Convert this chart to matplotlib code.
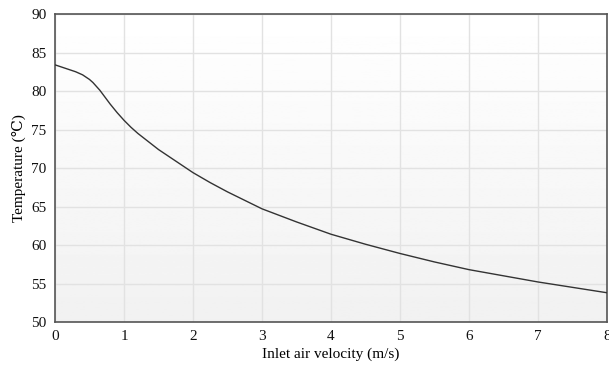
import numpy as np
import matplotlib
matplotlib.use("Agg")
import matplotlib.pyplot as plt

velocity = [0, 0.1, 0.2, 0.3, 0.4, 0.5, 0.55, 0.6, 0.65, 0.7, 0.75, 0.8, 0.9, 1.0, 1.1, 1.2, 1.3,
            1.5, 1.75, 2.0, 2.25, 2.5, 2.75, 3.0, 3.5, 4.0, 4.5, 5.0, 5.5, 6.0, 6.5, 7.0, 7.5, 8.0]
temperature = [83.4, 83.1, 82.8, 82.5, 82.1, 81.5, 81.1, 80.6, 80.1, 79.5, 78.9, 78.3, 77.2, 76.2, 75.3, 74.5, 73.8,
               72.4, 70.9, 69.4, 68.1, 66.9, 65.8, 64.7, 63.0, 61.4, 60.1, 58.9, 57.8, 56.8, 56.0, 55.2, 54.5, 53.8]
xticks = [0, 1, 2, 3, 4, 5, 6, 7, 8]
yticks = [50, 55, 60, 65, 70, 75, 80, 85, 90]

plt.rcParams['font.family'] = ['Liberation Serif', 'DejaVu Serif']
fig = plt.figure(figsize=(6.09, 3.66), dpi=100)
ax = fig.add_axes([0.0903, 0.1202, 0.9064, 0.8415])

grad = np.linspace(1.0, 0.945, 256).reshape(-1, 1)
ax.imshow(grad, aspect='auto', cmap='gray', vmin=0, vmax=1, origin='upper',
          extent=[0, 1, 0, 1], transform=ax.transAxes, zorder=0)

ax.plot(velocity, temperature, color='#333333', lw=1.0, zorder=3)
ax.set_xlim(0, 8)
ax.set_ylim(50, 90)
ax.set_xticks(xticks)
ax.set_yticks(yticks)
ax.grid(True, color='#e2e2e2', lw=1.0, zorder=1)
ax.set_axisbelow(True)
for s in ax.spines.values():
    s.set_color('#555555')
    s.set_linewidth(1.2)
ax.tick_params(length=0, labelsize=11, pad=6, colors='#111111')
ax.set_xlabel('Inlet air velocity (m/s)', fontsize=11, labelpad=3)
ax.set_ylabel('Temperature (℃)', fontsize=11, labelpad=4)
fig.savefig('out.png', dpi=100)
